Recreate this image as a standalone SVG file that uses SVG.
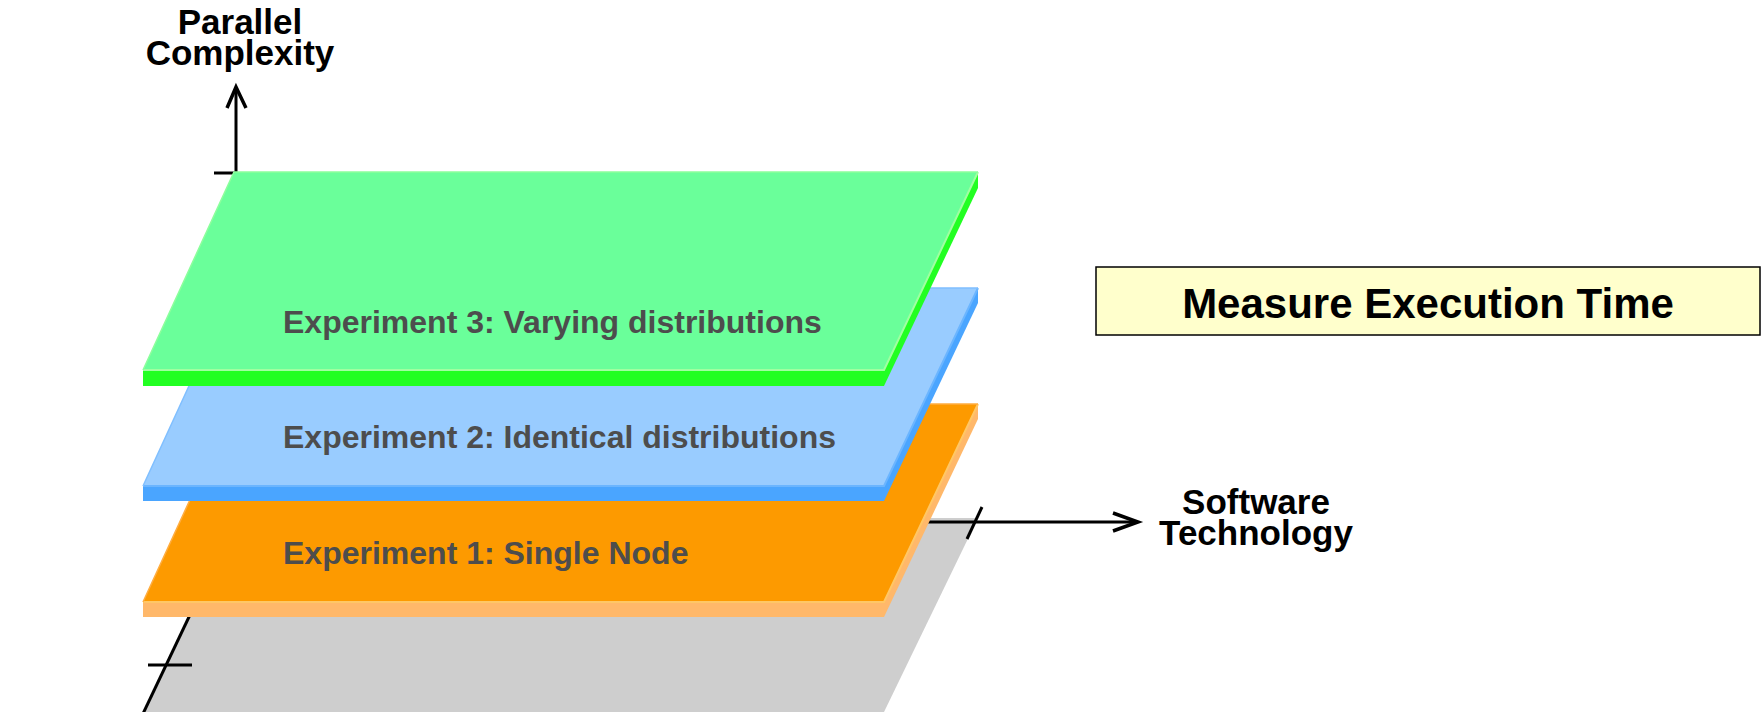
<svg xmlns="http://www.w3.org/2000/svg" width="1764" height="712" viewBox="0 0 1764 712">
  <style>
    .axis { fill: none; stroke: #000; stroke-width: 3; stroke-linecap: butt; stroke-linejoin: miter; }
    .head { fill: none; stroke: #000; stroke-width: 3.5; stroke-linejoin: miter; }
    .axislabel { font-family: "Liberation Sans", Arial, sans-serif; font-weight: bold; font-size: 35px; fill: #000; text-anchor: middle; }
    .exp { font-family: "Liberation Sans", Arial, sans-serif; font-weight: bold; font-size: 32px; fill: #4d4d4d; }
    .title { font-family: "Liberation Sans", Arial, sans-serif; font-weight: bold; font-size: 42px; fill: #000; text-anchor: middle; }
  </style>

  <rect width="1764" height="712" fill="#fff"/>

  <!-- base plane -->
  <g id="base-plane">
    <polygon points="236,518 978,518 884,712 143,712" fill="#cecece"/>
  </g>

  <!-- axes passing behind the layers -->
  <g id="connectors">
    <line class="axis" x1="236" y1="518" x2="140" y2="720"/>
    <line class="axis" x1="148" y1="665" x2="192" y2="665"/>
    <line class="axis" x1="900" y1="522" x2="1137" y2="522"/>
    <polyline class="head" points="1113,513 1138,522 1113,531"/>
    <line class="axis" x1="982" y1="507" x2="967" y2="539"/>
    <line class="axis" x1="236" y1="173" x2="236" y2="90"/>
    <polyline class="head" points="227,108 236,87 246,108"/>
    <line class="axis" x1="214" y1="173" x2="237" y2="173"/>
  </g>

  <!-- Experiment 1 layer -->
  <g id="exp1">
    <polygon points="978,404 978,419 884,617 884,602" fill="#ffb86a"/>
    <rect x="143" y="602" width="741" height="15" fill="#ffb86a"/>
    <polygon points="234,404 978,404 884,602 143,602" fill="#fd9a00"/>
    <polyline points="143,602 884,602 978,404" fill="none" stroke="#ffc766" stroke-width="2"/>
    <polyline points="143,602 234,404 978,404" fill="none" stroke="#ffad40" stroke-width="1.5"/>
    <text class="exp" x="283" y="564">Experiment 1: Single Node</text>
  </g>

  <!-- Experiment 2 layer -->
  <g id="exp2">
    <polygon points="978,288 978,303 884,501 884,486" fill="#4aa5ff"/>
    <rect x="143" y="486" width="741" height="15" fill="#4aa5ff"/>
    <polygon points="234,288 978,288 884,486 143,486" fill="#99ccff"/>
    <polyline points="143,486 884,486 978,288" fill="none" stroke="#6bb5ff" stroke-width="2"/>
    <polyline points="143,486 234,288 978,288" fill="none" stroke="#80bfff" stroke-width="1.5"/>
    <text class="exp" x="283" y="448">Experiment 2: Identical distributions</text>
  </g>

  <!-- Experiment 3 layer -->
  <g id="exp3">
    <polygon points="978,172 978,188 884,386 884,370" fill="#22ff22"/>
    <rect x="143" y="370" width="741" height="16" fill="#22ff22"/>
    <polygon points="234,172 978,172 884,370 143,370" fill="#6aff9a"/>
    <polyline points="143,370 884,370 978,172" fill="none" stroke="#a0ffa0" stroke-width="2"/>
    <polyline points="143,370 234,172 978,172" fill="none" stroke="#8cff9c" stroke-width="1.5"/>
    <text class="exp" x="283" y="333">Experiment 3: Varying distributions</text>
  </g>

  <!-- axis labels -->
  <g id="label-parallel">
    <text class="axislabel" x="240" y="34">Parallel</text>
    <text class="axislabel" x="240" y="65">Complexity</text>
  </g>
  <g id="label-software">
    <text class="axislabel" x="1256" y="514">Software</text>
    <text class="axislabel" x="1256" y="545">Technology</text>
  </g>

  <!-- measurement box -->
  <g id="measure">
    <rect x="1096" y="267" width="664" height="68" fill="#ffffcc" stroke="#000" stroke-width="1.5"/>
    <text class="title" x="1428" y="318">Measure Execution Time</text>
  </g>
</svg>
